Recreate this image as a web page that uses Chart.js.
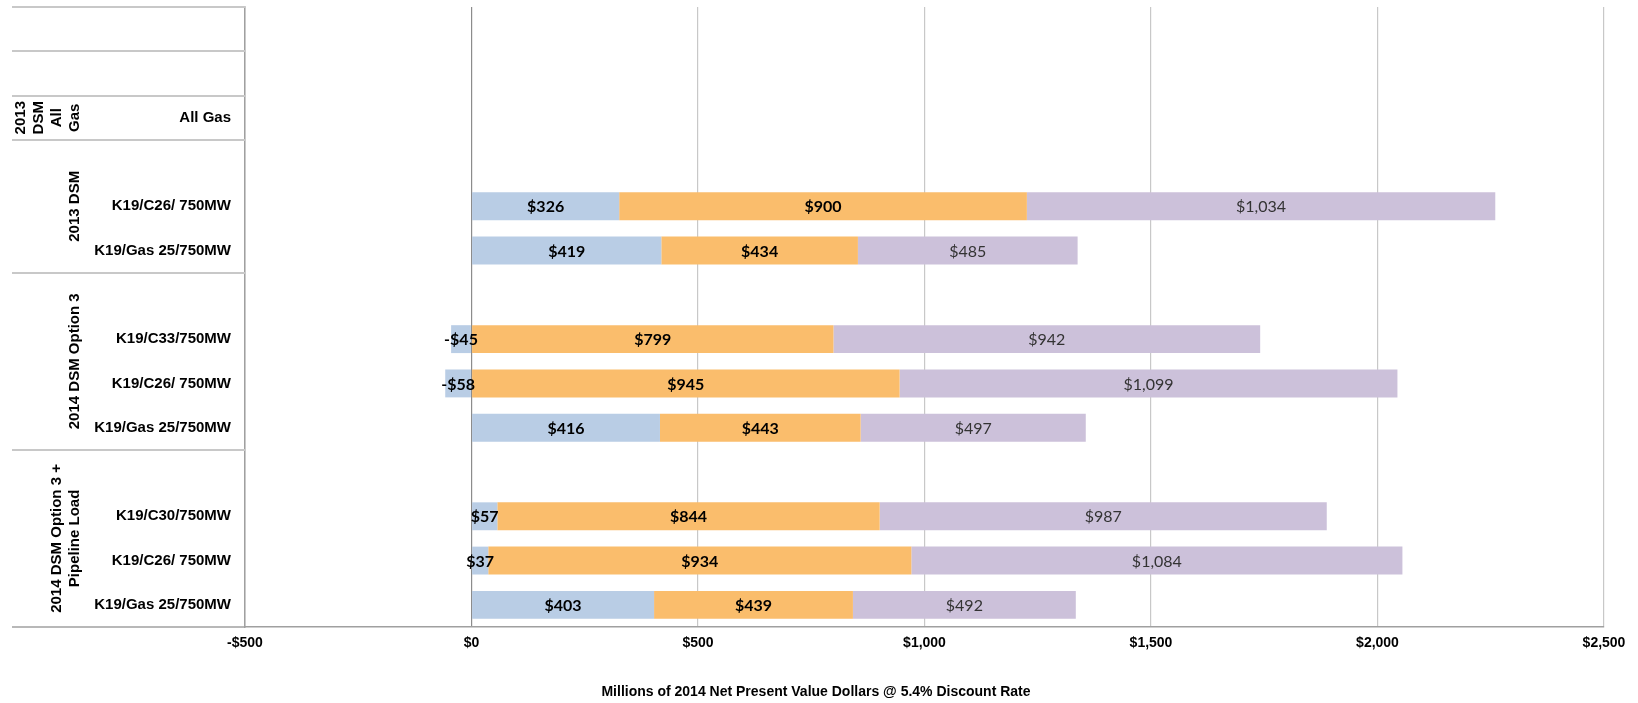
<!DOCTYPE html>
<html>
<head>
<meta charset="utf-8">
<script src="https://cdn.jsdelivr.net/npm/chart.js@4.4.1/dist/chart.umd.min.js"></script>
<style>
   html, body { margin: 0; padding: 0; background: #fff; }
   #wrap { width: 1638px; height: 703px; position: relative; }
</style>
</head>
<body>
<div id="wrap"><canvas id="chart"></canvas></div>
<script>
/* global Chart */

// category rows, top to bottom
const categories = [
   "", "", "All Gas",
   "", "K19/C26/ 750MW", "K19/Gas 25/750MW",
   "", "K19/C33/750MW", "K19/C26/ 750MW", "K19/Gas 25/750MW",
   "", "K19/C30/750MW", "K19/C26/ 750MW", "K19/Gas 25/750MW",
];

// group labels (lines) and the rows they cover
const groupLines = [[], [], ["2013", "DSM", "All", "Gas"], ["2013 DSM"], ["2014 DSM Option 3"], ["2014 DSM Option 3 +", "Pipeline Load"]];
const groupFirst = [0, 1, 2, 3, 6, 10];
const groupLast = [0, 1, 2, 5, 9, 13];

// series values (millions $)
const seriesBlue = [null, null, null, null, 326, 419, null, -45, -58, 416, null, 57, 37, 403];
const seriesOrange = [null, null, null, null, 900, 434, null, 799, 945, 443, null, 844, 934, 439];
const seriesPurple = [null, null, null, null, 1034, 485, null, 942, 1099, 497, null, 987, 1084, 492];

const xTicks = [-500, 0, 500, 1000, 1500, 2000, 2500];
const axisTitle = "Millions of 2014 Net Present Value Dollars @ 5.4% Discount Rate";

function money(v) {
   const s = "$" + Math.abs(v).toLocaleString("en-US");
   return v < 0 ? "-" + s : s;
}

const LABEL_LEFT = 12;

const extrasPlugin = {
   id: "extras",
   afterDatasetsDraw(chart) {
      const ctx = chart.ctx;

      // bar labels
      ctx.save();
      ctx.textAlign = "center";
      ctx.textBaseline = "middle";
      chart.data.datasets.forEach((ds, di) => {
         const meta = chart.getDatasetMeta(di);
         meta.data.forEach((bar, i) => {
            const v = ds.data[i];
            if (v === null || v === undefined) return;
            ctx.font = ds.labelFont;
            ctx.fillStyle = ds.labelColor;
            ctx.fillText(money(v), (bar.x + bar.base) / 2, bar.y + 1);
         });
      });
      ctx.restore();
   },
   afterDraw(chart) {
      const ctx = chart.ctx;
      const area = chart.chartArea;
      const y = chart.scales.y;
      const half = (y.getPixelForValue(1) - y.getPixelForValue(0)) / 2;

      ctx.save();
      // separator lines in the label area
      ctx.strokeStyle = "#c8c8c8";
      ctx.lineWidth = 2;
      groupFirst.forEach((f) => {
         const yy = Math.round(y.getPixelForValue(f) - half);
         ctx.beginPath();
         ctx.moveTo(LABEL_LEFT, yy);
         ctx.lineTo(area.left, yy);
         ctx.stroke();
      });
      // bottom line under labels
      ctx.strokeStyle = "#a0a0a0";
      ctx.lineWidth = 1.5;
      ctx.beginPath();
      ctx.moveTo(LABEL_LEFT, area.bottom);
      ctx.lineTo(area.left, area.bottom);
      ctx.stroke();

      // rotated group labels
      ctx.fillStyle = "#000";
      ctx.font = "bold 15px 'Liberation Sans', Arial, sans-serif";
      ctx.textAlign = "center";
      ctx.textBaseline = "middle";
      groupLines.forEach((lines, g) => {
         if (!lines.length) return;
         const cy = (y.getPixelForValue(groupFirst[g]) + y.getPixelForValue(groupLast[g])) / 2;
         const n = lines.length;
         lines.forEach((line, i) => {
            const cx = 75 - (n - 1 - i) * 18;
            ctx.save();
            ctx.translate(cx, cy);
            ctx.rotate(-Math.PI / 2);
            ctx.fillText(line, 0, 0);
            ctx.restore();
         });
      });

      // axis title
      ctx.font = "bold 14px 'Liberation Sans', Arial, sans-serif";
      ctx.fillText(axisTitle, 816, 692);
      ctx.restore();
   },
};

const data = {
   labels: categories,
   datasets: [
      {
         label: "Blue",
         data: seriesBlue,
         backgroundColor: "#b9cde5",
         labelFont: "bold 16px Lato, sans-serif",
         labelColor: "#000",
      },
      {
         label: "Orange",
         data: seriesOrange,
         backgroundColor: "#fabd6c",
         labelFont: "bold 16px Lato, sans-serif",
         labelColor: "#000",
      },
      {
         label: "Purple",
         data: seriesPurple,
         backgroundColor: "#ccc1da",
         labelFont: "16px Lato, sans-serif",
         labelColor: "#333",
      },
   ],
};

const config = {
   type: "bar",
   data: data,
   plugins: [extrasPlugin],
   options: {
      indexAxis: "y",
      responsive: true,
      maintainAspectRatio: false,
      animation: false,
      layout: {
         padding: { left: LABEL_LEFT, right: 34, top: 7, bottom: 0 },
      },
      datasets: {
         bar: {
            categoryPercentage: 1,
            barPercentage: 0.63,
            borderWidth: 0,
         },
      },
      plugins: {
         legend: { display: false },
         tooltip: { enabled: false },
      },
      scales: {
         x: {
            stacked: true,
            min: xTicks[0],
            max: xTicks[xTicks.length - 1],
            afterBuildTicks(axis) {
               axis.ticks = xTicks.map((v) => ({ value: v }));
            },
            afterFit(axis) {
               axis.height = 76;
            },
            grid: {
               drawTicks: false,
               color: (c) => (c.tick && c.tick.value === 0 ? "#8c8c8c" : "#c8c8c8"),
               lineWidth: 1.2,
            },
            border: { display: true, color: "#a0a0a0", width: 1.5 },
            ticks: {
               padding: 8,
               color: "#000",
               font: { family: "'Liberation Sans', Arial, sans-serif", size: 14, weight: "bold" },
               callback: (v) => money(v),
            },
         },
         y: {
            stacked: true,
            afterFit(axis) {
               axis.width = 245 - LABEL_LEFT;
               axis.paddingTop = 0;
               axis.paddingBottom = 0;
            },
            grid: { display: false, drawTicks: false },
            border: { display: true, color: "#a0a0a0", width: 1.5 },
            ticks: {
               padding: 14,
               color: "#000",
               autoSkip: false,
               font: { family: "'Liberation Sans', Arial, sans-serif", size: 15, weight: "bold" },
            },
         },
      },
   },
};

new Chart(document.getElementById("chart"), config);
</script>
</body>
</html>
